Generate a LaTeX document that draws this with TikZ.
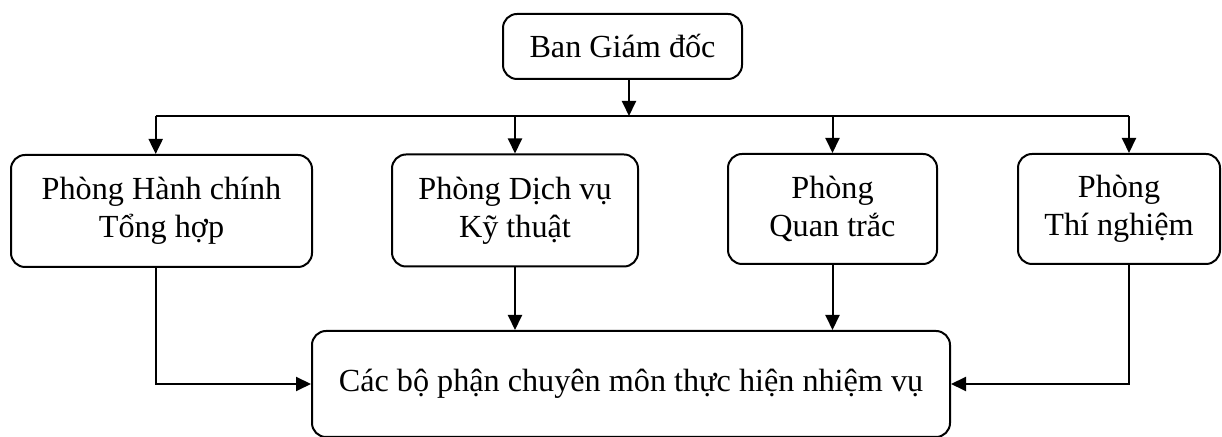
\documentclass[tikz,border=0pt]{standalone}
\usepackage{fontspec}
\setmainfont{Liberation Serif}
\usepackage{tikz}
\usetikzlibrary{arrows.meta, positioning, calc}

\begin{document}
\begin{tikzpicture}[
  x=0.5pt, y=-0.5pt,
  every node/.style = {font=\fontsize{16.1}{19}\selectfont},
  ent/.style = {
    rectangle, rounded corners=7pt, draw, line width=1pt,
    inner sep=0pt, text centered, align=center
  },
  arr/.style = {-{Triangle[length=7.5pt, width=7pt]}, line width=1pt},
  bus/.style = {line width=1pt}
]
\useasboundingbox (0,0) rectangle (1222,437);

%% ── Row 0: board ──────────────────────────────────────────────────────────
\node[ent, minimum width=119.5pt, minimum height=32.5pt]
  (bgd) at (622.5, 46.5) {Ban Giám đốc};

%% ── Row 1: four departments ──────────────────────────────────────────────
\node[ent, minimum width=150.5pt, minimum height=56pt]
  (hc)  at (161.5, 211) {Phòng Hành chính\\Tổng hợp};

\node[ent, minimum width=123pt,   minimum height=56pt]
  (dv)  at (515, 210.5) {Phòng Dịch vụ\\Kỹ thuật};

\node[ent, minimum width=104.5pt, minimum height=55pt]
  (qt)  at (832.5, 209) {Phòng\\Quan trắc};

\node[ent, minimum width=101pt,   minimum height=55pt]
  (tn)  at (1119, 209)  {Phòng\\Thí nghiệm};

%% ── Row 2: working units ──────────────────────────────────────────────────
\node[ent, minimum width=319pt,   minimum height=53pt]
  (bp)  at (631, 384)   {Các bộ phận chuyên môn thực hiện nhiệm vụ};

%% ── Bus under the board ───────────────────────────────────────────────────
\coordinate (busM) at (629, 116);
\coordinate (busL) at (155.7, 116);
\coordinate (busR) at (1129, 116);

\draw[arr] (bgd.south -| busM) -- (busM);
\draw[bus] (busL) -- (busR);

\draw[arr] (busL) -- (busL |- hc.north);
\draw[arr] (dv.north |- busL) -- (dv.north);
\draw[arr] (qt.north |- busL) -- (qt.north);
\draw[arr] (busR) -- (busR |- tn.north);

%% ── Arrows down to the working units ─────────────────────────────────────
\draw[arr] (busL |- hc.south) |- (bp.west);
\draw[arr] (dv.south) -- (dv.south |- bp.north);
\draw[arr] (qt.south) -- (qt.south |- bp.north);
\draw[arr] (busR |- tn.south) |- (bp.east);

\end{tikzpicture}
\end{document}
